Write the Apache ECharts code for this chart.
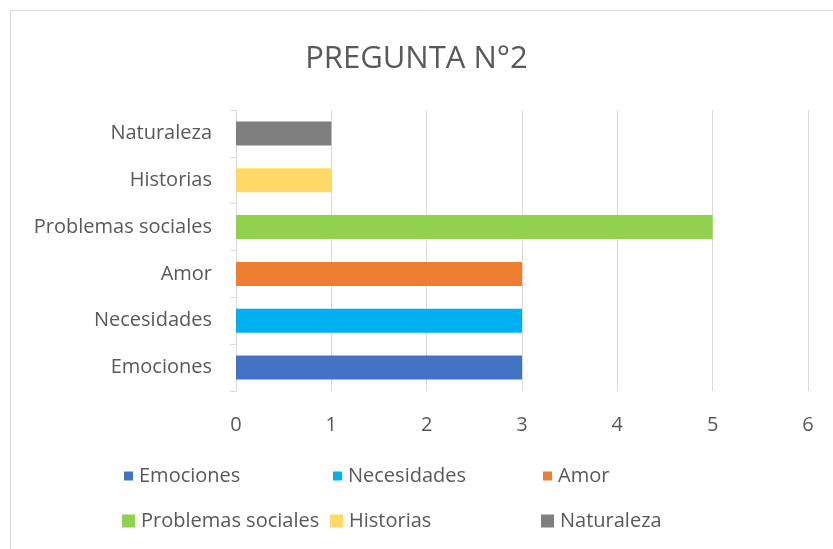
<!DOCTYPE html>
<html>
<head>
<meta charset="utf-8">
<script src="https://cdn.jsdelivr.net/npm/echarts@6/dist/echarts.min.js"></script>
<style>
  html,body{margin:0;padding:0;background:#fff;}
  #chart{width:833px;height:549px;}
</style>
</head>
<body>
<div id="chart"></div>
<script>
const categories=['Emociones','Necesidades','Amor','Problemas sociales','Historias','Naturaleza'];
const values=[3,3,3,5,1,1];
const colors=['#4472C4','#00B0F0','#ED7D31','#92D050','#FFD966','#7F7F7F'];
const xTicks=[0,1,2,3,4,5,6];

const font='"Open Sans", sans-serif';
const textColor='#595959';

//one series per category so each gets its own legend entry
const series=categories.map((name,i)=>({
    name:name,
    type:'bar',
    stack:'total',
    barWidth:24,
    itemStyle:{color:colors[i]},
    data:categories.map((c,j)=>j===i?values[i]:null)
}));

//legend spots: [left, top, icon size]
const legendPos=[
    [124,466,9],[333,466,9],[543,466,9],
    [122,511,13],[330,511,13],[541,511,13]
];
const legends=categories.map((name,i)=>({
    data:[name],
    left:legendPos[i][0],
    top:legendPos[i][1],
    itemWidth:legendPos[i][2],
    itemHeight:legendPos[i][2],
    itemGap:0,
    icon:'rect',
    padding:0,
    selectedMode:false,
    textStyle:{fontFamily:font,fontSize:20,color:textColor,padding:[0,0,0,1]}
}));

const chart=echarts.init(document.getElementById('chart'));
chart.setOption({
    animation:false,
    backgroundColor:'#fff',
    title:{
        text:'PREGUNTA N°2',
        left:'center',
        top:39,
        textStyle:{fontFamily:font,fontSize:31,fontWeight:'normal',color:textColor}
    },
    legend:legends,
    grid:{left:236,right:25,top:110,bottom:158},
    xAxis:{
        type:'value',
        min:xTicks[0],
        max:xTicks[xTicks.length-1],
        interval:1,
        axisLine:{show:false},
        axisTick:{show:false},
        splitLine:{lineStyle:{color:'#d9d9d9',width:1}},
        axisLabel:{fontFamily:font,fontSize:20,color:textColor,margin:24}
    },
    yAxis:{
        type:'category',
        data:categories,
        axisLine:{lineStyle:{color:'#d9d9d9'}},
        axisTick:{show:true,length:6,lineStyle:{color:'#d9d9d9'}},
        axisLabel:{fontFamily:font,fontSize:20,color:textColor,margin:24}
    },
    graphic:[{
        type:'rect',
        shape:{x:10.5,y:10.5,width:840,height:560},
        style:{fill:'none',stroke:'#d9d9d9',lineWidth:1},
        silent:true,
        z:-1
    }],
    series:series
});
</script>
</body>
</html>
